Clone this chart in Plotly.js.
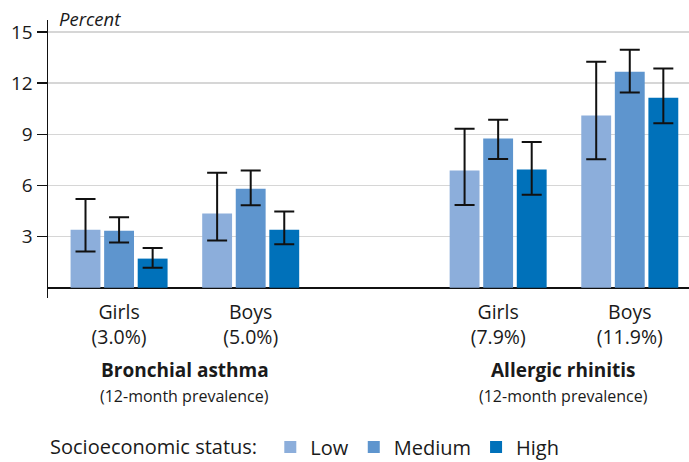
<!DOCTYPE html>
<html>
<head>
<meta charset="utf-8">
<script src="https://cdn.plot.ly/plotly-3.0.1.min.js"></script>
<style>html,body{margin:0;padding:0;background:#fff;}#chart{width:689px;height:462px;}</style>
</head>
<body>
<div id="chart"></div>
<script>
// ---- data ----
const groupLabels = ["Girls<br>(3.0%)", "Boys<br>(5.0%)", "Girls<br>(7.9%)", "Boys<br>(11.9%)"];
const seriesNames = ["Low", "Medium", "High"];
const lowValues = [3.4, 4.35, 6.87, 10.1];
const lowUpper = [5.2, 6.75, 9.33, 13.25];
const lowLower = [2.13, 2.77, 4.86, 7.53];
const mediumValues = [3.35, 5.8, 8.75, 12.67];
const mediumUpper = [4.13, 6.87, 9.85, 13.95];
const mediumLower = [2.65, 4.84, 7.55, 11.45];
const highValues = [1.71, 3.4, 6.93, 11.14];
const highUpper = [2.33, 4.47, 8.55, 12.85];
const highLower = [1.17, 2.55, 5.46, 9.64];
const diseaseTitles = ["Bronchial asthma", "Allergic rhinitis"];
const diseaseSubtitle = "(12-month prevalence)";
const yTicks = [3, 6, 9, 12, 15];

// ---- layout constants ----
const groupPos = [0, 1, 2.88, 3.88];
const colors = ["#8caedb", "#5e95ce", "#0071ba"];
const FONT = "Open Sans, Noto Sans, sans-serif";
const TXT = "#1a1a1a";

function mk(name, vals, up, lo, color) {
  return {
    type: "bar", name: name, x: groupPos, y: vals,
    marker: {color: color},
    error_y: {
      type: "data", symmetric: false,
      array: vals.map((v, i) => up[i] - v),
      arrayminus: vals.map((v, i) => v - lo[i]),
      color: "#111", thickness: 2, width: 10
    },
    hoverinfo: "skip"
  };
}

const data = [
  mk(seriesNames[0], lowValues, lowUpper, lowLower, colors[0]),
  mk(seriesNames[1], mediumValues, mediumUpper, mediumLower, colors[1]),
  mk(seriesNames[2], highValues, highUpper, highLower, colors[2])
];

// plot area: y from 20px to 298px (278px tall)
const PH = 278;
const py = px => (298 - px) / PH;

const annotations = [
  {text: "Percent", x: 0, xref: "paper", xanchor: "left", xshift: 9, y: py(18), yref: "paper", yanchor: "middle",
   font: {family: FONT, size: 18.5, color: TXT, style: "italic"}, showarrow: false}
];
const titleCenters = [(groupPos[0] + groupPos[1]) / 2, (groupPos[2] + groupPos[3]) / 2];
for (let i = 0; i < 2; i++) {
  annotations.push({text: "<b>" + diseaseTitles[i] + "</b>", x: titleCenters[i], xref: "x", y: py(370), yref: "paper",
    xanchor: "center", yanchor: "middle", showarrow: false, font: {family: FONT, size: 19, color: TXT}});
  annotations.push({text: diseaseSubtitle, x: titleCenters[i], xref: "x", y: py(396), yref: "paper",
    xanchor: "center", yanchor: "middle", showarrow: false, font: {family: FONT, size: 16, color: TXT}});
}

const layout = {
  width: 689, height: 462,
  margin: {l: 48, r: 0, t: 20, b: 164, autoexpand: false},
  paper_bgcolor: "#fff", plot_bgcolor: "#fff",
  barmode: "group", bargap: 0.235, bargroupgap: 0.11,
  font: {family: FONT, color: TXT},
  xaxis: {
    range: [-0.54, 4.33], tickvals: groupPos, ticktext: groupLabels,
    showgrid: false, zeroline: false, showline: false, ticks: "",
    tickfont: {family: FONT, size: 19.5, color: TXT}, fixedrange: true
  },
  yaxis: {
    range: [-0.6, 15.7], tickvals: yTicks, ticktext: yTicks.map(String),
    showgrid: true, gridcolor: "#d6d6d6", gridwidth: 1.5,
    zeroline: true, zerolinecolor: "#111", zerolinewidth: 1.5,
    showline: true, linecolor: "#111", linewidth: 1.5,
    ticks: "outside", ticklen: 10, tickwidth: 1.5, tickcolor: "#111",
    tickfont: {family: FONT, size: 19, color: TXT}, fixedrange: true
  },
  showlegend: true,
  legend: {
    orientation: "h", x: 0, xanchor: "left", xref: "paper",
    y: 1 - 447 / 462, yref: "container", yanchor: "middle",
    title: {text: "Socioeconomic status: ", font: {family: FONT, size: 20, color: TXT}, side: "left"},
    font: {family: FONT, size: 20, color: TXT},
    itemwidth: 30, traceorder: "normal", bgcolor: "rgba(0,0,0,0)"
  },
  annotations: annotations
};

Plotly.newPlot("chart", data, layout, {displayModeBar: false, staticPlot: true});
</script>
</body>
</html>
